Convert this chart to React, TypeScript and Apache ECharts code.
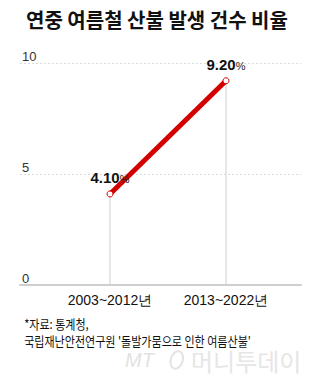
import React, { useEffect, useRef } from "react";
import * as echarts from "echarts";

const categories = ["2003~2012년", "2013~2022년"];
const values = [4.1, 9.2];
const valueLabels = ["4.10", "9.20"];
const yTicks = { min: 0, max: 10, interval: 5 };
const titleText = "연중 여름철 산불 발생 건수 비율";
const sourceLines = ["*자료: 통계청,", "국립재난안전연구원 '돌발가뭄으로 인한 여름산불'"];

const KR = "'Noto Sans CJK KR', 'Liberation Sans', sans-serif";
const NUM = "'Liberation Sans', Arial, sans-serif";

export default function App() {
  const ref = useRef<HTMLDivElement>(null);
  useEffect(() => {
    if (!ref.current) return;
    const chart = echarts.init(ref.current, null, { renderer: "svg" });
    chart.setOption({
      animation: false,
      backgroundColor: "#fff",
      title: {
        text: titleText,
        left: 21,
        top: 4,
        textStyle: { fontFamily: KR, fontSize: 20, fontWeight: "bold", color: "#111" },
      },
      grid: [
        { left: 20, right: 19, top: 63, bottom: 99 },
        { left: 52, right: 36, top: 63, bottom: 99 },
      ],
      xAxis: [
        {
          gridIndex: 0,
          type: "value",
          min: 0,
          max: 1,
          axisLine: { show: true, lineStyle: { color: "#cfcfcf", width: 2 } },
          axisTick: { show: false },
          axisLabel: { show: false },
          splitLine: { show: false },
        },
        {
          gridIndex: 1,
          type: "category",
          data: categories,
          axisLine: { show: false },
          axisTick: { show: false },
          axisLabel: { margin: 8, fontSize: 14, color: "#111", fontFamily: NUM },
          splitLine: { show: false },
        },
      ],
      yAxis: [
        {
          gridIndex: 0,
          type: "value",
          min: yTicks.min,
          max: yTicks.max,
          interval: yTicks.interval,
          axisLine: { show: false },
          axisTick: { show: false },
          axisLabel: {
            inside: true,
            margin: 2,
            verticalAlign: "bottom",
            fontSize: 13,
            color: "#333",
            fontFamily: NUM,
          },
          splitLine: { show: true, lineStyle: { color: "#dcdcdc", type: [2, 2], width: 1 } },
        },
        {
          gridIndex: 1,
          type: "value",
          min: yTicks.min,
          max: yTicks.max,
          interval: yTicks.interval,
          show: false,
        },
      ],
      series: [
        {
          type: "bar",
          xAxisIndex: 1,
          yAxisIndex: 1,
          data: values,
          barWidth: 1,
          itemStyle: { color: "#d0d0d0" },
          silent: true,
          z: 1,
        },
        {
          type: "line",
          xAxisIndex: 1,
          yAxisIndex: 1,
          data: values,
          lineStyle: { color: "#d40000", width: 5 },
          symbol: "circle",
          symbolSize: 6,
          itemStyle: { color: "#fff", borderColor: "#d40000", borderWidth: 1 },
          z: 3,
          label: {
            show: true,
            position: "top",
            distance: 5,
            formatter: (p: any) => `{n|${valueLabels[p.dataIndex]}}{p|%}`,
            rich: {
              n: { fontFamily: NUM, fontSize: 15, fontWeight: "bold", color: "#111" },
              p: { fontFamily: NUM, fontSize: 11, color: "#222", padding: [3, 0, 0, 0] },
            },
          },
        },
      ],
      graphic: [
        {
          type: "text",
          x: 21,
          y: 323,
          scaleX: 0.85,
          originX: 21,
          style: { text: sourceLines[0], fontFamily: KR, fontSize: 13, fill: "#111", verticalAlign: "middle" },
        },
        {
          type: "text",
          x: 21,
          y: 340,
          scaleX: 0.85,
          originX: 21,
          style: { text: sourceLines[1], fontFamily: KR, fontSize: 13, fill: "#111", verticalAlign: "middle" },
        },
        {
          type: "text",
          x: 125,
          y: 360,
          style: { text: "MT", fontFamily: NUM, fontSize: 20, fontStyle: "italic", fill: "#e2e2e2", verticalAlign: "middle" },
        },
        {
          type: "ellipse",
          shape: { cx: 177, cy: 360, rx: 6, ry: 9 },
          rotation: -0.3,
          originX: 177,
          originY: 360,
          style: { fill: "none", stroke: "#e2e2e2", lineWidth: 2 },
        },
        {
          type: "text",
          x: 191,
          y: 360,
          style: { text: "머니투데이", fontFamily: KR, fontSize: 24, fill: "#e6e6e6", verticalAlign: "middle" },
        },
      ],
    });
    return () => chart.dispose();
  }, []);
  return (
    <div
      ref={ref}
      style={{ position: "fixed", left: 0, top: 0, width: 320, height: 384 }}
    />
  );
}
